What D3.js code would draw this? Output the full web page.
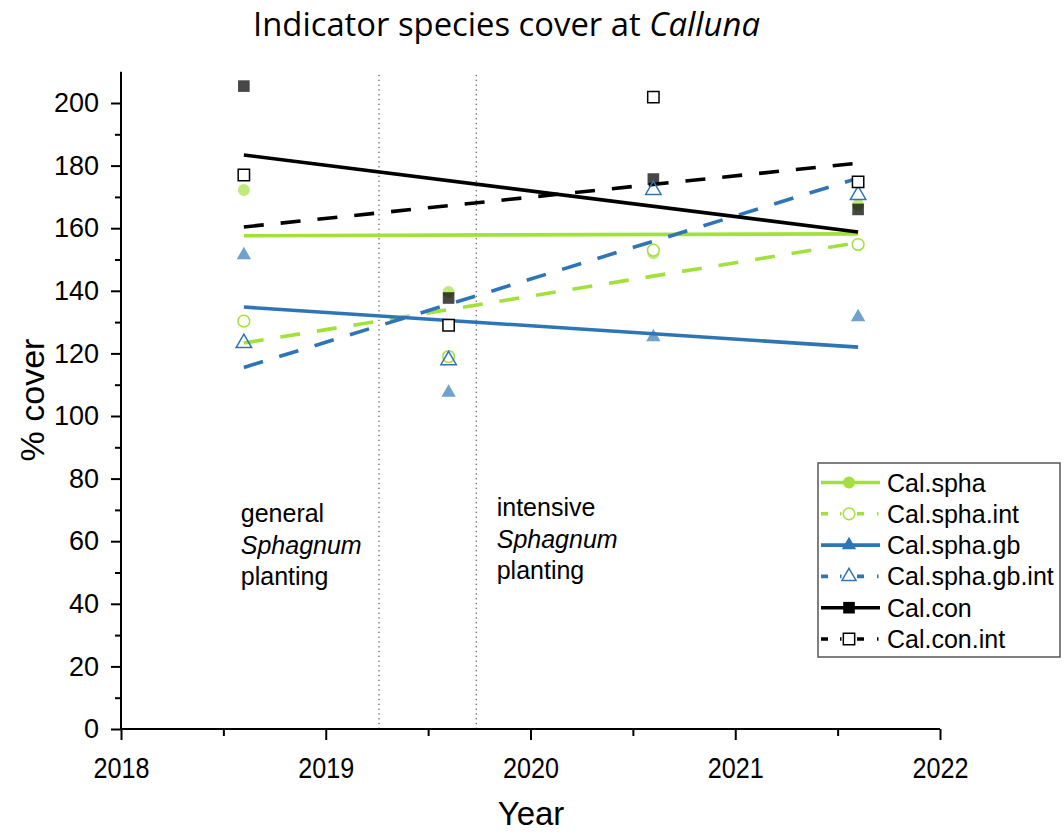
<!DOCTYPE html>
<html>
<head>
<meta charset="utf-8">
<script src="https://cdn.jsdelivr.net/npm/d3@7/dist/d3.min.js"></script>
<style>
  html, body { margin: 0; padding: 0; background: #fff; }
  svg { display: block; font-family: "Liberation Sans", Arial, sans-serif; }
</style>
</head>
<body>
<svg id="chart" width="1064" height="834"></svg>
<script>
// ---------------- data ----------------
const years = [2018.6, 2019.6, 2020.6, 2021.6];
const seriesNames = ["Cal.spha", "Cal.spha.int", "Cal.spha.gb", "Cal.spha.gb.int", "Cal.con", "Cal.con.int"];
const calSpha      = [172.2, 139.6, 152.0, 167.5];
const calSphaInt   = [130.3, 119.0, 153.0, 154.8];
const calSphaGb    = [151.4, 107.5, 125.2, 131.6];
const calSphaGbInt = [123.3, 117.8, 172.2, 170.6];
const calCon       = [205.4, 137.7, 175.7, 166.0];
const calConInt    = [177.0, 129.0, 201.9, 174.8];
// linear fit lines, at first and last year
const fitYears = [2018.6, 2021.6];
const fitStart = [157.6, 123.3, 134.8, 115.5, 183.4, 160.4];
const fitEnd   = [158.2, 155.4, 122.0, 176.0, 158.8, 180.8];
const xTicks = [2018, 2019, 2020, 2021, 2022];
const xMinorTicks = [2018.5, 2019.5, 2020.5, 2021.5];
const yTicks = [0, 20, 40, 60, 80, 100, 120, 140, 160, 180, 200];
const yMinorTicks = [10, 30, 50, 70, 90, 110, 130, 150, 170, 190];
const plantingDates = [2019.26, 2019.735];
const annotations = [
  { x: 2018.585, lines: ["general", "Sphagnum", "planting"] },
  { x: 2019.835, lines: ["intensive", "Sphagnum", "planting"] }
];

// ---------------- styles ----------------
const seriesValues = [calSpha, calSphaInt, calSphaGb, calSphaGbInt, calCon, calConInt];
const green = "#a2e13b", blue = "#2e75b6", black = "#000000";
const styles = [
  { color: green, dashed: false, shape: "circle",   filled: true },
  { color: green, dashed: true,  shape: "circle",   filled: false },
  { color: blue,  dashed: false, shape: "triangle", filled: true },
  { color: blue,  dashed: true,  shape: "triangle", filled: false },
  { color: black, dashed: false, shape: "square",   filled: true },
  { color: black, dashed: true,  shape: "square",   filled: false }
];
const sansFont = "'Liberation Sans', Arial, sans-serif";

const svg = d3.select("#chart");
const x = d3.scaleLinear().domain([2018, 2022]).range([121, 940]);
const y = d3.scaleLinear().domain([0, 210]).range([729, 71.7]);

function symbolPath(shape, big) {
  const s = big || 1;
  if (shape === "circle") return d3.symbol(d3.symbolCircle, 113 * s)();
  if (shape === "square") return d3.symbol(d3.symbolSquare, 135 * s)();
  return d3.symbol(d3.symbolTriangle, 90 * s)();
}

// ---------------- planting lines ----------------
svg.append("g").selectAll("line").data(plantingDates).join("line")
  .attr("x1", d => x(d)).attr("x2", d => x(d))
  .attr("y1", y(0)).attr("y2", y(209))
  .attr("stroke", "#333").attr("stroke-width", 1)
  .attr("stroke-dasharray", "1.3,3.5");

// ---------------- annotations ----------------
annotations.forEach(a => {
  a.lines.forEach((t, i) => {
    svg.append("text")
      .attr("x", x(a.x))
      .attr("y", (a.x < 2019 ? 522 : 516) + i * 31.5)
      .attr("font-family", sansFont)
      .attr("font-size", 25)
      .attr("font-style", t === "Sphagnum" ? "italic" : "normal")
      .text(t);
  });
});

// ---------------- filled markers (semi transparent) ----------------
const markerG = svg.append("g");
seriesValues.forEach((vals, si) => {
  const st = styles[si];
  if (!st.filled) return;
  markerG.selectAll(null).data(vals).join("path")
    .attr("d", symbolPath(st.shape))
    .attr("transform", (d, i) => `translate(${x(years[i])},${y(d)})`)
    .attr("fill", st.color).attr("fill-opacity", st.color === black ? 0.72 : 0.68);
});

// ---------------- fit lines ----------------
const lineGen = d3.line().x(d => x(d[0])).y(d => y(d[1]));
seriesValues.forEach((vals, si) => {
  const st = styles[si];
  svg.append("path")
    .datum([[fitYears[0], fitStart[si]], [fitYears[1], fitEnd[si]]])
    .attr("d", lineGen)
    .attr("fill", "none")
    .attr("stroke", st.color)
    .attr("stroke-width", 3.6)
    .attr("stroke-dasharray", st.dashed ? "20,17" : null);
});

// ---------------- open markers ----------------
seriesValues.forEach((vals, si) => {
  const st = styles[si];
  if (st.filled) return;
  svg.append("g").selectAll(null).data(vals).join("path")
    .attr("d", symbolPath(st.shape, st.shape === "triangle" ? 1.15 : 0.95))
    .attr("transform", (d, i) => `translate(${x(years[i])},${y(d)})`)
    .attr("fill", st.shape === "triangle" ? "none" : "#fff")
    .attr("stroke", st.color).attr("stroke-width", 1.5);
});

// ---------------- axes ----------------
const xAxis = svg.append("g").attr("transform", `translate(0,${y(0)})`)
  .call(d3.axisBottom(x).tickValues(xTicks).tickFormat(d3.format("d")).tickSize(11).tickPadding(17));
const xMinor = svg.append("g").attr("transform", `translate(0,${y(0)})`)
  .call(d3.axisBottom(x).tickValues(xMinorTicks).tickFormat("").tickSize(7));
const yAxis = svg.append("g").attr("transform", `translate(${x(2018)},0)`)
  .call(d3.axisLeft(y).tickValues(yTicks).tickFormat(d3.format("d")).tickSize(10).tickPadding(12));
const yMinor = svg.append("g").attr("transform", `translate(${x(2018)},0)`)
  .call(d3.axisLeft(y).tickValues(yMinorTicks).tickFormat("").tickSize(6));
[xAxis, xMinor, yAxis, yMinor].forEach(g => {
  g.selectAll(".domain").attr("stroke", "#000").attr("stroke-width", 2);
  g.selectAll(".tick line").attr("stroke", "#000").attr("stroke-width", 2);
  g.selectAll("text").attr("font-size", 27).attr("font-family", sansFont).attr("fill", "#000");
});
xAxis.selectAll("text").attr("font-size", 30).attr("transform", "scale(0.84,1)");
xAxis.select(".domain").attr("d", `M${x(2018)},0H${x(2022)}`);
xMinor.select(".domain").remove();
yAxis.select(".domain").attr("d", `M0,${y(0)}V${y(210)}`);
yMinor.select(".domain").remove();

// ---------------- axis titles ----------------
svg.append("text").attr("x", 531).attr("y", 825).attr("text-anchor", "middle")
  .attr("font-family", sansFont).attr("font-size", 33).text("Year");
svg.append("text").attr("transform", "translate(44,400) rotate(-90)").attr("text-anchor", "middle")
  .attr("font-family", sansFont).attr("font-size", 34).text("% cover");

// ---------------- title ----------------
const title = svg.append("text").attr("x", 506.5).attr("y", 36).attr("text-anchor", "middle")
  .attr("font-family", "'Open Sans', 'Noto Sans', sans-serif").attr("font-size", 30);
title.append("tspan").text("Indicator species cover at ");
title.append("tspan").attr("font-style", "italic").text("Calluna");
const tl = title.node().getComputedTextLength();
title.attr("font-size", 30 * 507 / tl);

// ---------------- legend ----------------
const leg = svg.append("g");
leg.append("rect").attr("x", 818).attr("y", 463).attr("width", 242).attr("height", 194)
  .attr("fill", "#fff").attr("stroke", "#555").attr("stroke-width", 1.5);
seriesNames.forEach((name, i) => {
  const st = styles[i];
  const cy = 482.5 + i * 31.3;
  leg.append("line").attr("x1", 821).attr("x2", 880).attr("y1", cy).attr("y2", cy)
    .attr("stroke", st.color).attr("stroke-width", 3.6)
    .attr("stroke-dasharray", st.dashed ? "7,12,1.5,15.5,7,13,1.5,100" : null);
  leg.append("path").attr("d", symbolPath(st.shape, st.filled ? 1 : 0.95))
    .attr("transform", `translate(849,${cy})`)
    .attr("fill", st.filled ? st.color : "#fff")
    .attr("stroke", st.filled ? "none" : st.color).attr("stroke-width", 1.5);
  leg.append("text").attr("x", 887).attr("y", cy + 9)
    .attr("font-family", sansFont).attr("font-size", 25).text(name);
});
</script>
</body>
</html>
